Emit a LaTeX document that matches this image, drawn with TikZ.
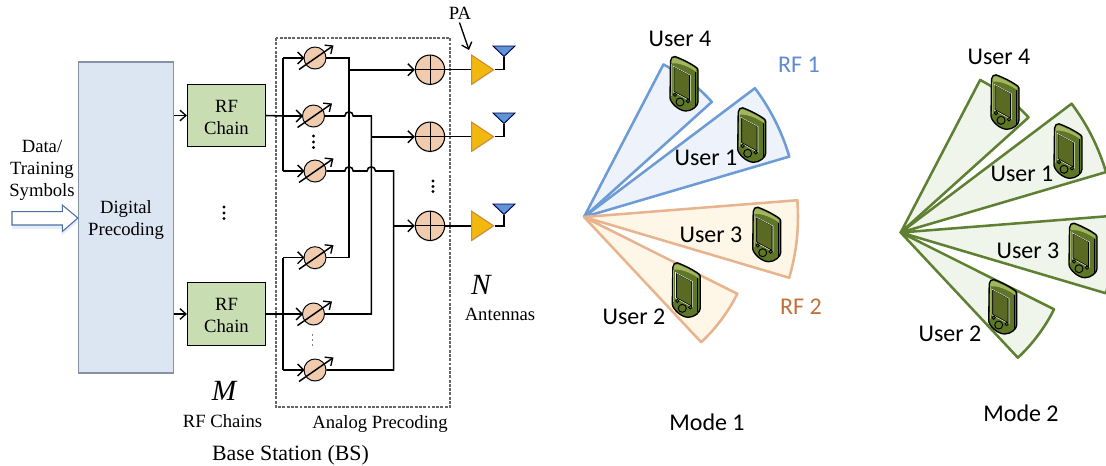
\documentclass[tikz,border=0pt]{standalone}
\usepackage{fontspec}
\setmainfont{Liberation Serif}
\newfontfamily\carl{Carlito}
\usetikzlibrary{shapes.geometric,arrows.meta,calc}
\definecolor{dpfill}{HTML}{DCE6F2}
\definecolor{dpline}{HTML}{8592A3}
\definecolor{rffill}{HTML}{C9DDB2}
\definecolor{psfill}{HTML}{F0CBAE}
\definecolor{pafill}{HTML}{F2B80E}
\definecolor{paline}{HTML}{D08C35}
\definecolor{antfill}{HTML}{5F94D8}
\definecolor{shad}{HTML}{E4EDF8}
\definecolor{bluel}{HTML}{6C9BD6}
\definecolor{bluef}{HTML}{EDF2FB}
\definecolor{orl}{HTML}{E8B48E}
\definecolor{orf}{HTML}{FEF6E6}
\definecolor{grl}{HTML}{5F8032}
\definecolor{grf}{HTML}{EFF5EA}
\definecolor{rfa}{HTML}{5F8AD0}
\definecolor{rfb}{HTML}{C0713A}
\definecolor{phbody}{HTML}{5E7726}
\definecolor{phlight}{HTML}{A4B562}
\definecolor{phscreen}{HTML}{5A6A22}
\tikzset{
  serif14/.style={font=\fontsize{14}{16.5}\selectfont,align=center,inner sep=0pt},
  userlab/.style={font=\carl\fontsize{18}{21}\selectfont,inner sep=0pt},
  dpbox/.style={draw=dpline,fill=dpfill,line width=.9pt,inner sep=0pt,minimum width=71.25pt,minimum height=233.25pt},
  rfbox/.style={draw=black,fill=rffill,line width=.8pt,inner sep=0pt,minimum width=58.5pt,minimum height=47pt,serif14},
  shifter/.style={circle,draw=black,fill=psfill,line width=.7pt,minimum size=16.5pt,inner sep=0pt,preaction={fill=shad,transform canvas={yshift=-1pt}}},
  summer/.style={circle,draw=black,fill=psfill,line width=.8pt,minimum size=22pt,inner sep=0pt,preaction={fill=shad,transform canvas={yshift=-1pt}}},
  panode/.style={isosceles triangle,isosceles triangle stretches,draw=paline,fill=pafill,line width=.8pt,minimum height=16.5pt,minimum width=22pt,inner sep=0pt,anchor=lower side,preaction={fill=shad,transform canvas={shift={(.7pt,-.7pt)}}}},
  wire/.style={line width=1.15pt,draw=black},
  tipwire/.style={wire,-{Straight Barb[length=4.5pt,width=9pt,line width=1pt]}},
  mainwire/.style={tipwire,line width=1.4pt},
  trim/.style={line width=1.1pt,-{Straight Barb[length=4.5pt,width=8pt,line width=1pt]}},
  antenna/.style={draw=black!70!blue,fill=antfill,line width=.7pt},
  dotmark/.style={fill=black,circle,inner sep=0pt,minimum size=2.6pt},
  thindot/.style={fill=black,circle,inner sep=0pt,minimum size=1.1pt},
  sector/.style={line width=1.9pt,line join=round},
  blues/.style={sector,draw=bluel,fill=bluef},
  oranges/.style={sector,draw=orl,fill=orf},
  greens/.style={sector,draw=grl,fill=grf},
}
\newcommand{\phoneat}[2]{%
\begin{scope}[shift={(#1,#2)}]
  \path[fill=phbody,draw=black,line width=1pt,line join=round]
    (0.5,5) .. controls (0.5,2) and (3,0) .. (5,0.5) .. controls (12,3) and (22,8) .. (27,12)
    .. controls (28,13) and (28,14) .. (28,16) -- (28,46) .. controls (28,50) and (22,55) .. (16,55)
    .. controls (9,55) and (0.5,47) .. (0,42) -- cycle;
  \path[fill=phlight] (1.5,5) .. controls (1.5,3) and (3,1.5) .. (5,2) .. controls (12,4.5) and (21,9) .. (26,13) -- (26.5,16) .. controls (20,11) and (8,6) .. (1.5,7.5) -- cycle;
  \draw[phlight,line width=.7pt] (1.5,8) -- (1.5,40);
  \draw[black,line width=.5pt] (25.5,16) -- (25.5,50);
  \path[fill=phscreen,draw=black,line width=.7pt] (4,10.5) -- (19.5,19) -- (19.5,44) -- (4,35.5) -- cycle;
  \draw[white!80!phlight,line width=.4pt] (3.2,10) -- (20.3,19.2) -- (20.3,45) -- (3.2,35.8) -- cycle;
  \draw[black,line width=.7pt] (10,46) circle[radius=4];
  \draw[black,line width=.6pt] (5,38.7) circle[radius=1.7];
  \draw[black,line width=.6pt] (18,45) circle[radius=1.7];
\end{scope}}
\newcommand{\beam}[5]{% style, apex, a1, a2, r
  \path[#1] (#2) -- ++(#3:#5) arc[start angle=#3,end angle=#4,radius=#5] -- cycle;}
\begin{document}
\begin{tikzpicture}[x=0.75pt,y=-0.75pt]
\useasboundingbox (0,0) rectangle (1106,465);
\clip (0,0) rectangle (1106,465);

% digital part
\node[dpbox] (dp) at (126,217.5) {};
\node[serif14] (dptxt) at (126,220) {Digital\\Precoding};
\node[rfbox] (rf1) at (226.5,115.5) {\strut RF\\Chain};
\node[rfbox] (rf2) at (226.5,314) {\strut RF\\Chain};
\node[serif14] (data) at (42,170) {Data/\\Training\\Symbols};
\coordinate (dp1) at (dp.east |- rf1.west);
\coordinate (dp2) at (dp.east |- rf2.west);
\draw[trim] (dp1) -- (rf1.west);
\draw[trim] (dp2) -- (rf2.west);
\path[fill=shad] (12,216) -- (62,216) -- (62,209) -- (78,222) -- (62,235) -- (62,229) -- (12,229) -- cycle;
\path[fill=white,line width=.8pt,line join=miter,draw=rfa!80!black]
  (12,211.7) -- (62.3,211.7) -- (62.3,205) -- (dp.west |- 0,218) -- (62.3,231.5) -- (62.3,225) -- (12,225) -- cycle;
\node[dotmark] (d1) at (224,207) {};
\node[dotmark] (d2) at (224,213) {};
\node[dotmark] (d3) at (224,218.5) {};

% analog precoding frame
\draw[draw=black!60,line width=.8pt,dash pattern=on 2.2pt off 1pt] (276,38) rectangle (450,407);

% shifters and combiners
\node[shifter] (p1) at (315,58) {};
\node[shifter] (p2) at (313.5,116) {};
\node[shifter] (p3) at (315,171) {};
\node[shifter] (p4) at (315,257.7) {};
\node[shifter] (p5) at (313.5,314) {};
\node[shifter] (p6) at (315,370) {};
\node[summer] (s1) at (430,69.7) {};
\node[summer] (s2) at (430,136.7) {};
\node[summer] (s3) at (430,225.8) {};
\foreach \s in {s1,s2,s3}{
  \draw[line width=.7pt] (\s.north) -- (\s.south) (\s.west) -- (\s.east);
}
% splitter buses
\coordinate (b1) at (283,116);
\coordinate (b2) at (283,314);
\draw[wire] (rf1.east) -- (b1);
\draw[wire] (rf2.east) -- (b2);
\draw[wire] (p3.west -| b1) -- (p1.west -| b1);
\draw[wire] (p6.west -| b2) -- (p4.west -| b2);
\foreach \p/\b in {p1/b1,p2/b1,p3/b1,p4/b2,p5/b2,p6/b2}{
  \draw[tipwire] (\p.west -| \b) -- ($(\p.west)+(1,0)$);
}
% outgoing lines
\coordinate (v1) at (349,69.7);
\coordinate (v2) at (371.3,136.7);
\coordinate (v3) at (393.7,225.8);
\draw[wire] (p1.east) -| (v1) -- (v1 |- p4.east) -- (p4.east);
\draw[wire] (p2.east) -- (344.8,116) arc[start angle=180,end angle=360,radius=4.2] -- (v2 |- p2.east) -- (v2) -- (v2 |- p5.east) -- (p5.east);
\draw[wire] (p3.east) -- (344.8,171) arc[start angle=180,end angle=360,radius=4.2] -- (367.1,171) arc[start angle=180,end angle=360,radius=4.2] -- (v3 |- p3.east) -- (v3) -- (v3 |- p6.east) -- (p6.east);
\draw[mainwire] (v1) -- (s1.west);
\draw[mainwire] (v2) -- (s2.west);
\draw[mainwire] (v3) -- (s3.west);
% shifter diagonal arrows
\foreach \p in {p1,p2,p3,p4,p5,p6}{
  \draw[trim] ($(\p)+(-16,11.5)$) -- ($(\p)+(18.5,-12.5)$);
}
\node[dotmark] (d4) at (313.5,136) {};
\node[dotmark] (d5) at (313.5,142) {};
\node[dotmark] (d6) at (313.5,147.5) {};
\node[thindot] (d7) at (312.5,335) {};
\node[thindot] (d8) at (312.5,340) {};
\node[thindot] (d9) at (312.5,345) {};
\node[dotmark] (d10) at (433,181) {};
\node[dotmark] (d11) at (433,186.5) {};
\node[dotmark] (d12) at (433,191.5) {};

% PA and antennas
\foreach \i/\y/\ya in {1/69.7/46,2/136.7/113,3/225.8/204}{
  \coordinate (antc\i) at (504,\ya+10.5);
  \draw[wire] (s\i.east) -- (471,\y);
  \node[panode] (pa\i) at (471,\y) {};
  \draw[wire] (pa\i.apex) -| (antc\i);
  \draw[antenna] (antc\i) -- (515,\ya) -- (493,\ya) -- cycle;
}
\node[font=\fontsize{14}{16}\selectfont,inner sep=0pt] (patxt) at (460,13) {PA};
\coordinate (patip) at (469,50);
\draw[line width=1pt,-{Straight Barb[length=4.5pt,width=8pt,line width=1pt]}] (459.5,22.5) -- (patip);
\node[font=\itshape\fontsize{22}{24}\selectfont,inner sep=0pt] (ntxt) at (481,285) {N};
\node[serif14] (ant) at (500,314) {Antennas};
\node[font=\itshape\fontsize{22}{24}\selectfont,inner sep=0pt] (mtxt) at (224,391) {M};
\node[serif14] (rfch) at (222.5,421) {RF Chains};
\node[serif14] (apt) at (380,424) {Analog Precoding};
\node[font=\fontsize{16.4}{18}\selectfont,inner sep=0pt] (bs) at (290.5,455) {Base Station (BS)};

% Mode 1
\coordinate (ap1) at (584,217);
\beam{blues}{ap1}{-62.5}{-42}{172}
\beam{blues}{ap1}{-37}{-16.4}{214}
\beam{oranges}{ap1}{-4.5}{16.5}{214}
\beam{oranges}{ap1}{26.6}{46.9}{171.5}
\phoneat{670}{56}
\phoneat{737.7}{107.3}
\phoneat{752.7}{206.7}
\phoneat{672.3}{262.3}
\node[userlab] (m1u4) at (680,38.5) {User 4};
\node[userlab] (m1u1) at (706,158) {User 1};
\node[userlab] (m1u3) at (711,235) {User 3};
\node[userlab] (m1u2) at (634,317) {User 2};
\node[userlab,text=rfa] (rf1t) at (799,65) {RF 1};
\node[userlab,text=rfb] (rf2t) at (801,307) {RF 2};
\node[userlab] (mode1) at (707,422) {Mode 1};

% Mode 2
\coordinate (ap2) at (900.7,232.5);
\beam{greens}{ap2}{-62.5}{-42}{172}
\beam{greens}{ap2}{-37}{-16.4}{214}
\beam{greens}{ap2}{-4.5}{16.5}{214}
\beam{greens}{ap2}{26.6}{46.9}{171.5}
\phoneat{991}{74.3}
\phoneat{1054}{123.3}
\phoneat{1069}{222.7}
\phoneat{988.7}{279}
\node[userlab] (m2u4) at (999,57) {User 4};
\node[userlab] (m2u1) at (1022,174) {User 1};
\node[userlab] (m2u3) at (1028,251) {User 3};
\node[userlab] (m2u2) at (950,334) {User 2};
\node[userlab] (mode2) at (1021,413) {Mode 2};
\end{tikzpicture}
\end{document}
